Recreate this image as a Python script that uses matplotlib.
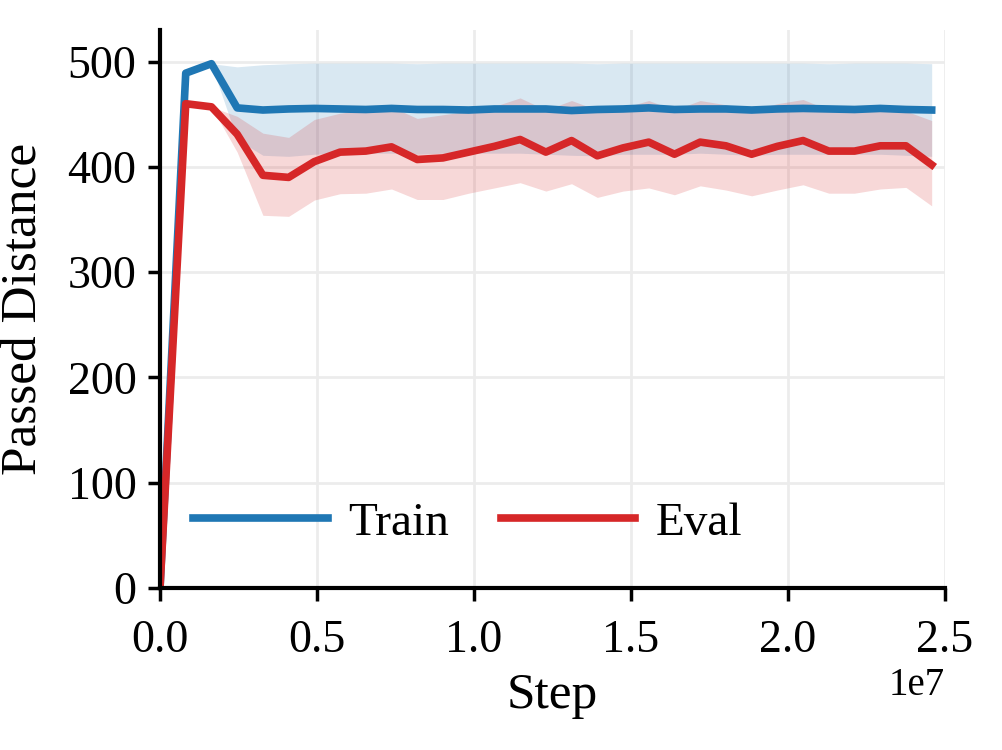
import numpy as np
import matplotlib
matplotlib.use("Agg")
import matplotlib.pyplot as plt

plt.rcParams['font.family'] = ['Liberation Serif', 'DejaVu Serif']
plt.rcParams['mathtext.fontset'] = 'stix'

# step values (x axis)
steps = [0, 819200, 1638400, 2457600, 3276800, 4096000, 4915200, 5734400,
         6553600, 7372800, 8192000, 9011200, 9830400, 10649600, 11468800,
         12288000, 13107200, 13926400, 14745600, 15564800, 16384000,
         17203200, 18022400, 18841600, 19660800, 20480000, 21299200,
         22118400, 22937600, 23756800, 24576000]

train_mean = [0, 489, 498, 456, 454, 455, 455.5, 455, 454.5, 455.5, 454.5,
              454.5, 454, 455, 455, 455, 453.5, 454.5, 455, 456, 454.5,
              455, 455, 454, 455, 455.5, 455, 454.5, 455.5, 454.5, 454]
train_upper = [0, 489, 498, 495, 497, 498, 498.5, 498.5, 498.5, 498.5, 498,
               498.5, 498.5, 498.5, 498.5, 498.5, 498.5, 498, 498.5, 498.5,
               498.5, 498.5, 498.5, 498.5, 498.5, 498.5, 498, 498.5, 498.5,
               498.5, 498]
train_lower = [0, 489, 497, 426, 411, 410, 412, 413, 413, 413, 412, 413, 413,
               413, 413, 412, 411, 410.5, 412, 412, 412, 413, 412, 411, 412,
               412, 412, 412, 412, 411, 410]

eval_mean = [0, 460, 457, 431, 392, 390, 405, 414, 415, 419, 407, 408.5, 414,
             419.5, 426, 414, 425, 410.5, 418, 423.5, 412, 423.5, 420, 412,
             419.5, 425, 415, 415, 420, 420, 402]
eval_upper = [0, 460, 457, 448, 432, 428, 445, 451, 454, 457, 446, 449.5, 453,
              457.5, 465.5, 454, 463, 454, 456, 463, 454, 463, 459, 454, 460,
              464, 454, 456, 454, 453, 444]
eval_lower = [0, 460, 457, 414, 354, 353, 368.5, 374.5, 375, 379, 369, 369,
              375, 380, 385, 377, 384, 371, 377, 380, 373.5, 382, 378, 372.5,
              378, 383, 375, 375, 379, 380.5, 363]

fig = plt.figure(figsize=(10.02, 7.5), dpi=100)
ax = fig.add_axes([0.1597, 0.216, 0.7834, 0.744])

ax.grid(True, color='#ececec', linewidth=2)
ax.set_axisbelow(True)

ax.fill_between(steps, train_lower, train_upper, color='tab:blue', alpha=0.17, linewidth=0)
ax.fill_between(steps, eval_lower, eval_upper, color='tab:red', alpha=0.18, linewidth=0)
ax.plot(steps, train_mean, color='tab:blue', linewidth=5.5, label='Train')
ax.plot(steps, eval_mean, color='tab:red', linewidth=5.5, label='Eval')

ax.set_xlim(0, 2.5e7)
ax.set_ylim(0, 530)
ax.set_yticks([0, 100, 200, 300, 400, 500])
ax.set_xticks([0, 0.5e7, 1.0e7, 1.5e7, 2.0e7, 2.5e7])

for s in ['top', 'right']:
    ax.spines[s].set_visible(False)
for s in ['left', 'bottom']:
    ax.spines[s].set_linewidth(3)

ax.tick_params(axis='both', labelsize=33, length=9, width=2.5)
ax.tick_params(axis='x', pad=14)
ax.tick_params(axis='y', pad=8)
ax.xaxis.get_offset_text().set_fontsize(28)

ax.set_xlabel('Step', fontsize=37, labelpad=7)
ax.set_ylabel('Passed Distance', fontsize=37, labelpad=14)

ax.legend(loc='center left', bbox_to_anchor=(0.042, 0.1165), ncol=2, frameon=False,
          fontsize=34, handlelength=2.85, handletextpad=0.43, columnspacing=1.1,
          borderaxespad=0, borderpad=0)

fig.savefig('out.png', dpi=100)
